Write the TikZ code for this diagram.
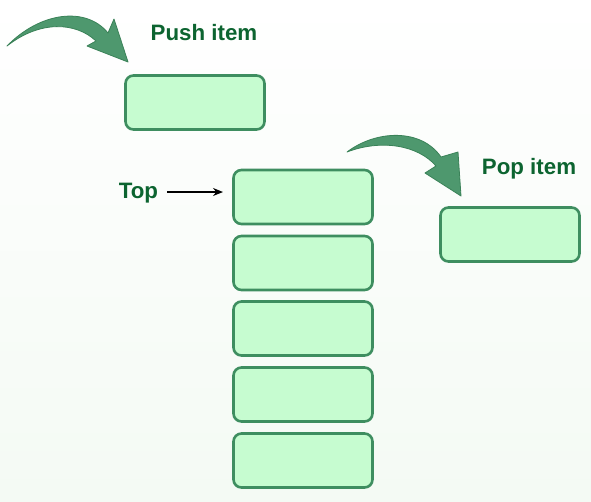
\documentclass[tikz,border=0pt]{standalone}
\usepackage{fontspec}
\setmainfont{Liberation Sans}
\usetikzlibrary{arrows.meta}
\definecolor{boxfill}{RGB}{198,252,208}
\definecolor{boxline}{RGB}{62,142,96}
\definecolor{txtgreen}{RGB}{12,100,48}
\definecolor{arrfill}{RGB}{78,152,110}
\definecolor{arrline}{RGB}{58,130,88}
\definecolor{bgbottom}{RGB}{244,250,244}
\begin{document}
\begin{tikzpicture}[x=1pt,y=-1pt,
  cell/.style={draw=boxline, fill=boxfill, line width=2.6pt, rounded corners=8pt,
    minimum width=139pt, minimum height=54pt, inner sep=0pt},
  lbl/.style={text=txtgreen, font=\fontsize{22.3}{26}\selectfont\bfseries, inner sep=0pt},
  bigarrow/.style={fill=arrfill, draw=arrline, line width=0.8pt, line join=round}]
\shade[top color=white, bottom color=bgbottom] (0,0) rectangle (591,501);
\useasboundingbox (0,0) rectangle (591,501);
% boxes
\node[cell] (push) at (195,102.5) {};
\node[cell] (s1) at (303,197) {};
\node[cell] (s2) at (303,263) {};
\node[cell] (s3) at (303,328.5) {};
\node[cell] (s4) at (303,394.5) {};
\node[cell] (s5) at (303,460.5) {};
\node[cell] (pop) at (510,234.5) {};
% labels
\node[lbl] (pushlbl) at (204,33) {Push item};
\node[lbl] (poplbl) at (529,169) {Pop item};
\node[lbl] (toplbl) at (138.5,193) {Top};
% top arrow
\coordinate (tstart) at (167,192);
\coordinate (tend) at (223,192);
\draw[-{Stealth[length=10pt,width=8pt]}, line width=1.5pt] (tstart) -- (tend);
% push curved arrow
\path[bigarrow] (7,46) .. controls (40,12) and (86,6) .. (108,33) -- (114,19) -- (128,62) -- (87,46) -- (96,41)
   .. controls (76,22) and (40,20) .. (7,46) -- cycle;
% pop curved arrow
\path[bigarrow] (347,152) .. controls (376,130) and (421,128) .. (441,157) -- (458,152) -- (461,196) -- (425,173) -- (436,166)
   .. controls (418,145) and (381,139) .. (347,152) -- cycle;
\end{tikzpicture}
\end{document}
